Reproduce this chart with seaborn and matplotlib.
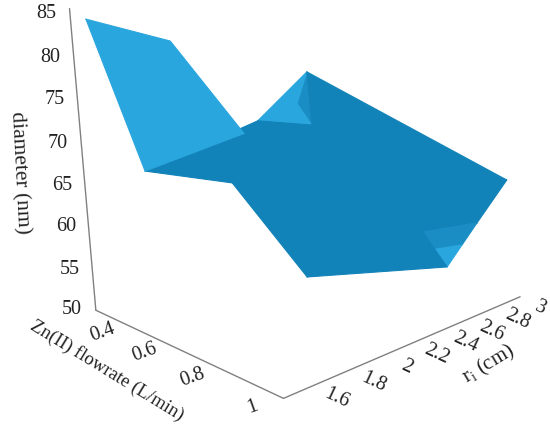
import matplotlib
matplotlib.use("Agg")
import matplotlib.pyplot as plt
import matplotlib.tri as mtri
import seaborn as sns

# surface points
flow_pts = [0.358, 0.392, 0.598, 0.544, 0.502, 0.386, 0.526, 0.980, 1.002, 1.018, 0.784, 0.920, 1.008, 0.468, 0.961, 1.005]
r_pts = [1.520, 1.920, 2.012, 1.540, 2.252, 2.768, 2.552, 2.976, 2.532, 1.652, 1.644, 2.536, 2.712, 2.558, 2.534, 2.622]
diam_pts = [84, 80, 71, 69, 70, 72, 68, 64, 57, 63, 70, 60, 61, 70, 58.5, 59]

flow_labels = ["0.4", "0.6", "0.8", "1"]
r_labels = ["1.6", "1.8", "2", "2.2", "2.4", "2.6", "2.8", "3"]
z_labels = ["50", "55", "60", "65", "70", "75", "80", "85"]

# label places in pixels
flow_pos = [(103, 332), (145, 352), (193, 377), (252, 407)]
r_pos = [(337, 398), (374, 382), (407, 367), (437, 354), (466, 342), (492, 331), (517, 319), (540, 308)]
z_pos = [(72, 310), (70, 269), (66, 227), (62, 186), (58, 143), (55, 100), (50, 57), (46, 13)]

light = "#2AA6DF"
dark = "#1283B9"
mid = "#1A8EC4"
ink = "#222222"
grey = "#808080"

sns.set_theme(style="white")
plt.rcParams["font.family"] = ["Liberation Serif"]
plt.rcParams["mathtext.fontset"] = "custom"
plt.rcParams["mathtext.rm"] = "Liberation Serif"

fig = plt.figure(figsize=(5.5, 4.24), dpi=100)
ax = fig.add_axes([-0.155, -0.302, 1.4, 1.8], projection="3d")
ax.set_proj_type("persp", focal_length=0.36)
ax.view_init(elev=20, azim=-44)
ax.set_box_aspect((1, 1.2, 1.12), zoom=0.69)

x0, x1 = 0.35, 1.03
y0, y1 = 1.5, 3.0
ax.set_xlim(x0, x1)
ax.set_ylim(y0, y1)
ax.set_zlim(50, 85)
ax.set_axis_off()

# axis lines
ax.plot([x0, x0], [y0, y0 - 0.05], [50, 85.4], color=grey, lw=1)
ax.plot([x0, x1], [y0, y0], [50, 51.2], color=grey, lw=1)
ax.plot([x1, x1], [y0, y1], [51.2, 50], color=grey, lw=1)

tris = [[0, 1, 2], [0, 2, 3],
        [4, 5, 13], [4, 13, 6], [5, 6, 13],
        [3, 4, 6], [3, 6, 10], [10, 6, 9], [9, 6, 11], [9, 11, 8], [6, 5, 7], [6, 7, 12], [6, 12, 11],
        [8, 14, 15], [14, 15, 12], [14, 12, 11]]
cols = [light, light,
        light, light, mid,
        dark, dark, dark, dark, dark, dark, dark, dark,
        light, mid, mid]
tri = mtri.Triangulation(flow_pts, r_pts, triangles=tris)
surf = ax.plot_trisurf(tri, diam_pts, color=dark, shade=False, linewidth=0.8)
surf.set_facecolors(cols)
surf.set_edgecolors(cols)


def label(px, py, s, rot=0, size=14.5):
    fig.text(px / 550, 1 - py / 424, s, rotation=rot, fontsize=size, color=ink, ha="center", va="center")


for p, s in zip(flow_pos, flow_labels):
    label(p[0], p[1], s, rot=20)
for p, s in zip(r_pos, r_labels):
    label(p[0], p[1], s, rot=-25)
for p, s in zip(z_pos, z_labels):
    label(p[0], p[1], s)

label(19, 173, "diameter (nm)", rot=-87, size=15.5)
label(107, 370, "Zn(II) flowrate (L/min)", rot=-31.5, size=13.5)
label(489, 364, r"r$_{\mathrm{i}}$ (cm)", rot=31, size=15)

fig.savefig("out.png", dpi=100)
